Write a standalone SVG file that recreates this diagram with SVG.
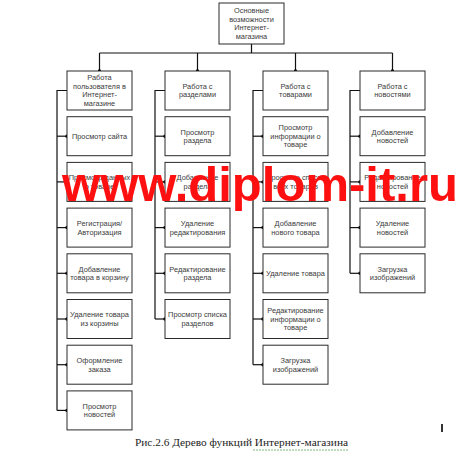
<svg xmlns="http://www.w3.org/2000/svg" width="476" height="460" viewBox="0 0 476 460">
<style>
.box{fill:#fff;stroke:#2a2a2a;stroke-width:1}
.t{font-family:"Liberation Sans",Arial,sans-serif;font-size:7.4px;fill:#3a3a3a;text-anchor:middle}
.ln{fill:none;stroke:#111;stroke-width:1.2}
.wm{font-family:"Liberation Sans",Arial,sans-serif;font-weight:bold;font-size:48px;fill:#ff1010}
.cap{font-family:"Liberation Serif","Times New Roman",serif;font-size:10.5px;fill:#222}
</style>
<defs>
<marker id="dot" viewBox="0 0 4 4" refX="2" refY="2" markerWidth="4" markerHeight="4" markerUnits="userSpaceOnUse"><circle cx="2" cy="2" r="1.7" fill="#000"/></marker>
</defs>
<rect width="476" height="460" fill="#fff"/>

<g id="connectors">
<path class="ln" d="M251.5,44 V53 M99.5,53 H392.5"/>
<path class="ln" marker-end="url(#dot)" d="M99.5,53 V71"/>
<path class="ln" marker-end="url(#dot)" d="M197.5,53 V71"/>
<path class="ln" marker-end="url(#dot)" d="M295.5,53 V71"/>
<path class="ln" marker-end="url(#dot)" d="M392.5,53 V71"/>
<!-- col1 -->
<path class="ln" d="M67,90.5 H57 V410.4"/>
<path class="ln" marker-end="url(#dot)" d="M57,136.2 H67"/>
<path class="ln" marker-end="url(#dot)" d="M57,181.9 H67"/>
<path class="ln" marker-end="url(#dot)" d="M57,227.6 H67"/>
<path class="ln" marker-end="url(#dot)" d="M57,273.3 H67"/>
<path class="ln" marker-end="url(#dot)" d="M57,319 H67"/>
<path class="ln" marker-end="url(#dot)" d="M57,364.7 H67"/>
<path class="ln" marker-end="url(#dot)" d="M57,410.4 H67"/>
<!-- col2 -->
<path class="ln" d="M165,90.5 H155 V319"/>
<path class="ln" marker-end="url(#dot)" d="M155,136.2 H165"/>
<path class="ln" marker-end="url(#dot)" d="M155,181.9 H165"/>
<path class="ln" marker-end="url(#dot)" d="M155,227.6 H165"/>
<path class="ln" marker-end="url(#dot)" d="M155,273.3 H165"/>
<path class="ln" marker-end="url(#dot)" d="M155,319 H165"/>
<!-- col3 -->
<path class="ln" d="M263,90.5 H253 V364.7"/>
<path class="ln" marker-end="url(#dot)" d="M253,136.2 H263"/>
<path class="ln" marker-end="url(#dot)" d="M253,181.9 H263"/>
<path class="ln" marker-end="url(#dot)" d="M253,227.6 H263"/>
<path class="ln" marker-end="url(#dot)" d="M253,273.3 H263"/>
<path class="ln" marker-end="url(#dot)" d="M253,319 H263"/>
<path class="ln" marker-end="url(#dot)" d="M253,364.7 H263"/>
<!-- col4 -->
<path class="ln" d="M360,90.5 H350 V273.3"/>
<path class="ln" marker-end="url(#dot)" d="M350,136.2 H360"/>
<path class="ln" marker-end="url(#dot)" d="M350,181.9 H360"/>
<path class="ln" marker-end="url(#dot)" d="M350,227.6 H360"/>
<path class="ln" marker-end="url(#dot)" d="M350,273.3 H360"/>
</g>

<g id="root"><rect class="box" x="219" y="3" width="65" height="41"/>
<text class="t" x="251.5" y="13.2">Основные<tspan x="251.5" dy="8.6">возможности</tspan><tspan x="251.5" dy="8.6">Интернет-</tspan><tspan x="251.5" dy="8.6">магазина</tspan></text></g>

<!-- column 1 -->
<g id="c1b0"><rect class="box" x="67" y="71" width="65" height="39"/>
<text class="t" x="99.5" y="80.2">Работа<tspan x="99.5" dy="8.6">пользователя в</tspan><tspan x="99.5" dy="8.6">Интернет-</tspan><tspan x="99.5" dy="8.6">магазине</tspan></text></g>
<g id="c1b1"><rect class="box" x="67" y="116.7" width="65" height="39"/>
<text class="t" x="99.5" y="138.8">Просмотр сайта</text></g>
<g id="c1b2"><rect class="box" x="67" y="162.4" width="65" height="39"/>
<text class="t" x="99.5" y="180.2">Просмотр данных<tspan x="99.5" dy="8.6">о товаре</tspan></text></g>
<g id="c1b3"><rect class="box" x="67" y="208.1" width="65" height="39"/>
<text class="t" x="99.5" y="225.9">Регистрация/<tspan x="99.5" dy="8.6">Авторизация</tspan></text></g>
<g id="c1b4"><rect class="box" x="67" y="253.8" width="65" height="39"/>
<text class="t" x="99.5" y="271.6">Добавление<tspan x="99.5" dy="8.6">товара в корзину</tspan></text></g>
<g id="c1b5"><rect class="box" x="67" y="299.5" width="65" height="39"/>
<text class="t" x="99.5" y="317.3">Удаление товара<tspan x="99.5" dy="8.6">из корзины</tspan></text></g>
<g id="c1b6"><rect class="box" x="67" y="345.2" width="65" height="39"/>
<text class="t" x="99.5" y="363">Оформление<tspan x="99.5" dy="8.6">заказа</tspan></text></g>
<g id="c1b7"><rect class="box" x="67" y="390.9" width="65" height="39"/>
<text class="t" x="99.5" y="408.7">Просмотр<tspan x="99.5" dy="8.6">новостей</tspan></text></g>

<!-- column 2 -->
<g id="c2b0"><rect class="box" x="165" y="71" width="65" height="39"/>
<text class="t" x="197.5" y="88.8">Работа с<tspan x="197.5" dy="8.6">разделами</tspan></text></g>
<g id="c2b1"><rect class="box" x="165" y="116.7" width="65" height="39"/>
<text class="t" x="197.5" y="134.5">Просмотр<tspan x="197.5" dy="8.6">раздела</tspan></text></g>
<g id="c2b2"><rect class="box" x="165" y="162.4" width="65" height="39"/>
<text class="t" x="197.5" y="180.2">Добавление<tspan x="197.5" dy="8.6">раздела</tspan></text></g>
<g id="c2b3"><rect class="box" x="165" y="208.1" width="65" height="39"/>
<text class="t" x="197.5" y="225.9">Удаление<tspan x="197.5" dy="8.6">редактирования</tspan></text></g>
<g id="c2b4"><rect class="box" x="165" y="253.8" width="65" height="39"/>
<text class="t" x="197.5" y="271.6">Редактирование<tspan x="197.5" dy="8.6">раздела</tspan></text></g>
<g id="c2b5"><rect class="box" x="165" y="299.5" width="65" height="39"/>
<text class="t" x="197.5" y="317.3">Просмотр списка<tspan x="197.5" dy="8.6">разделов</tspan></text></g>

<!-- column 3 -->
<g id="c3b0"><rect class="box" x="263" y="71" width="65" height="39"/>
<text class="t" x="295.5" y="88.8">Работа с<tspan x="295.5" dy="8.6">товарами</tspan></text></g>
<g id="c3b1"><rect class="box" x="263" y="116.7" width="65" height="39"/>
<text class="t" x="295.5" y="130.2">Просмотр<tspan x="295.5" dy="8.6">информации о</tspan><tspan x="295.5" dy="8.6">товаре</tspan></text></g>
<g id="c3b2"><rect class="box" x="263" y="162.4" width="65" height="39"/>
<text class="t" x="295.5" y="180.2">Просмотр списка<tspan x="295.5" dy="8.6">всех товаров</tspan></text></g>
<g id="c3b3"><rect class="box" x="263" y="208.1" width="65" height="39"/>
<text class="t" x="295.5" y="225.9">Добавление<tspan x="295.5" dy="8.6">нового товара</tspan></text></g>
<g id="c3b4"><rect class="box" x="263" y="253.8" width="65" height="39"/>
<text class="t" x="295.5" y="275.9">Удаление товара</text></g>
<g id="c3b5"><rect class="box" x="263" y="299.5" width="65" height="39"/>
<text class="t" x="295.5" y="313">Редактирование<tspan x="295.5" dy="8.6">информации о</tspan><tspan x="295.5" dy="8.6">товаре</tspan></text></g>
<g id="c3b6"><rect class="box" x="263" y="345.2" width="65" height="39"/>
<text class="t" x="295.5" y="363">Загрузка<tspan x="295.5" dy="8.6">изображений</tspan></text></g>

<!-- column 4 -->
<g id="c4b0"><rect class="box" x="360" y="71" width="65" height="39"/>
<text class="t" x="392.5" y="88.8">Работа с<tspan x="392.5" dy="8.6">новостями</tspan></text></g>
<g id="c4b1"><rect class="box" x="360" y="116.7" width="65" height="39"/>
<text class="t" x="392.5" y="134.5">Добавление<tspan x="392.5" dy="8.6">новостей</tspan></text></g>
<g id="c4b2"><rect class="box" x="360" y="162.4" width="65" height="39"/>
<text class="t" x="392.5" y="180.2">Редактирование<tspan x="392.5" dy="8.6">новостей</tspan></text></g>
<g id="c4b3"><rect class="box" x="360" y="208.1" width="65" height="39"/>
<text class="t" x="392.5" y="225.9">Удаление<tspan x="392.5" dy="8.6">новостей</tspan></text></g>
<g id="c4b4"><rect class="box" x="360" y="253.8" width="65" height="39"/>
<text class="t" x="392.5" y="271.6">Загрузка<tspan x="392.5" dy="8.6">изображений</tspan></text></g>

<g id="watermark"><text class="wm" x="62" y="201" textLength="396" lengthAdjust="spacingAndGlyphs">www.diplom-it.ru</text></g>

<g id="caption">
<text class="cap" x="135" y="446" textLength="213" lengthAdjust="spacingAndGlyphs">Рис.2.6 Дерево функций Интернет-магазина</text>
<path d="M253,450 H348" stroke="#7cb77c" stroke-width="1" stroke-dasharray="2,1" fill="none"/>
<path d="M442,424 V432" stroke="#000" stroke-width="1.6"/>
</g>
</svg>
